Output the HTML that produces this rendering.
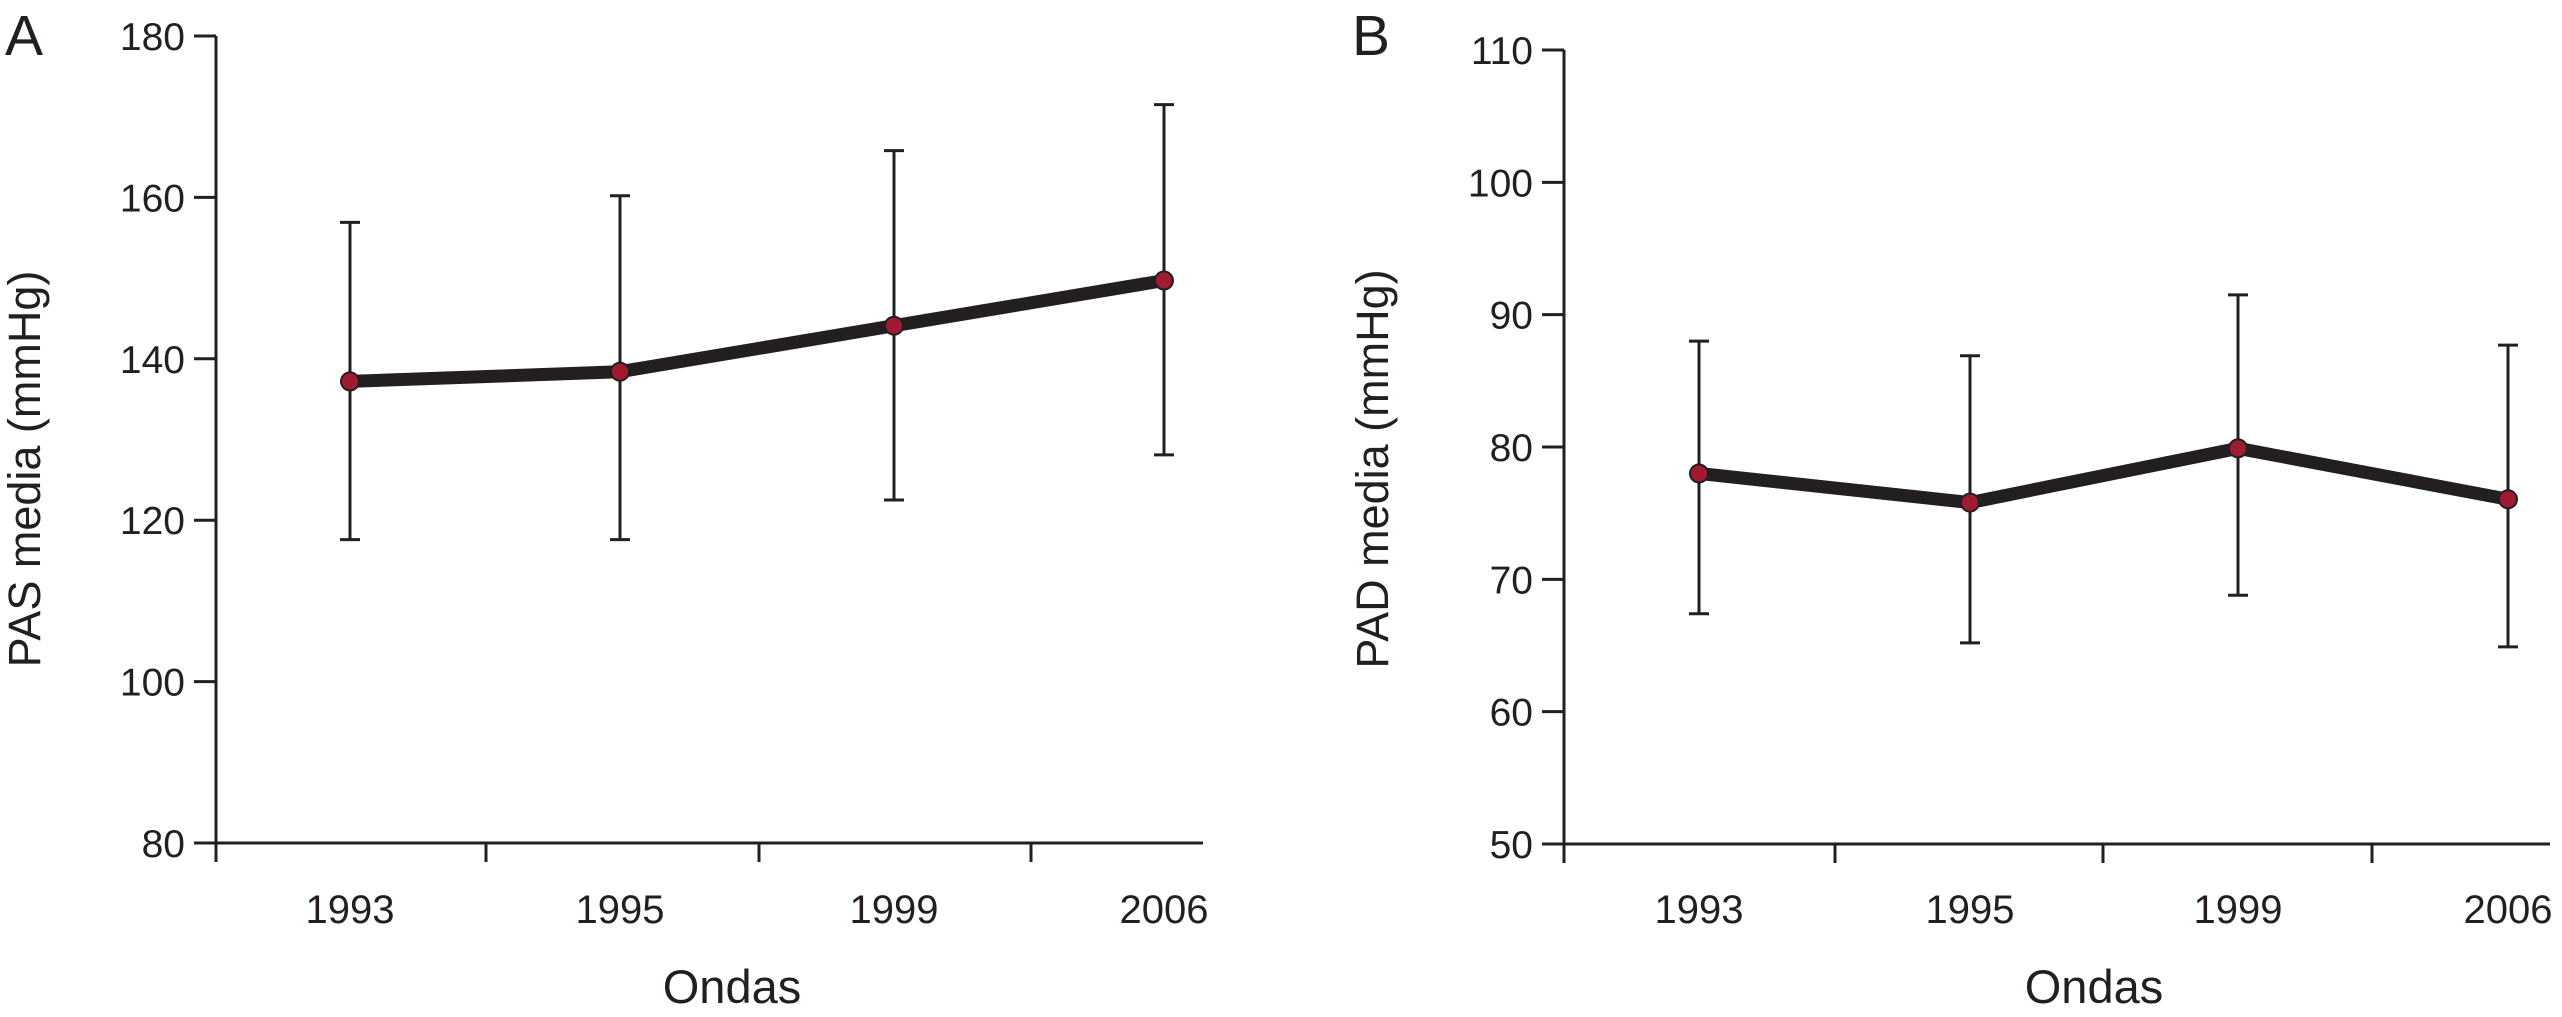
<!DOCTYPE html>
<html><head><meta charset="utf-8"><style>
html,body{margin:0;padding:0;background:#fff;}
svg{display:block;}
text{font-family:"Liberation Sans",sans-serif;fill:#231f20;}
</style></head>
<body>
<svg id="chart" width="2562" height="1017" viewBox="0 0 2562 1017" xmlns="http://www.w3.org/2000/svg"></svg>
<script>
const categories = ["1993","1995","1999","2006"];
const pasMean = [137.2, 138.4, 144.1, 149.7];
const pasLow = [117.6, 117.6, 122.5, 128.1];
const pasHigh = [156.9, 160.2, 165.8, 171.5];
const pasTicks = [80,100,120,140,160,180];
const padMean = [78.0, 75.8, 79.9, 76.05];
const padLow = [67.4, 65.2, 68.8, 64.9];
const padHigh = [88.0, 86.9, 91.5, 87.7];
const padTicks = [50,60,70,80,90,100,110];

const NS="http://www.w3.org/2000/svg";
const svg=document.getElementById('chart');
function mk(tag,attrs,parent){const e=document.createElementNS(NS,tag);for(const k in attrs)e.setAttribute(k,attrs[k]);(parent||svg).appendChild(e);return e;}

function panel(cfg){
  const g=mk('g',{});
  
  
  const y=v=>cfg.y0+(v-cfg.vmin)/(cfg.vmax-cfg.vmin)*(cfg.y1-cfg.y0);
  const x=i=>cfg.pts[i];
  // axes
  const ya=mk('line',{x1:cfg.ax,y1:y(cfg.vmax),x2:cfg.ax,y2:y(cfg.vmin)+19,stroke:'#231f20','stroke-width':3},g);
  
  
  const xa=mk('line',{x1:cfg.ax,y1:y(cfg.vmin),x2:cfg.xend,y2:y(cfg.vmin),stroke:'#231f20','stroke-width':3},g);
  
  
  cfg.xticks.forEach(tx=>{
    const t=mk('line',{x1:tx,y1:y(cfg.vmin),x2:tx,y2:y(cfg.vmin)+19,stroke:'#231f20','stroke-width':3},g);
    
    
  });
  cfg.ticks.forEach(v=>{
    const t=mk('line',{x1:cfg.ax-22,y1:y(v),x2:cfg.ax,y2:y(v),stroke:'#231f20','stroke-width':3},g);
    
    
    const l=mk('text',{x:cfg.ax-31,y:y(v)+14,'text-anchor':'end','font-size':39},g);
    l.textContent=v;
    
    
  });
  categories.forEach((c,i)=>{
    const l=mk('text',{x:x(i),y:923,'text-anchor':'middle','font-size':40},g);
    l.textContent=c;
    
    
  });
  // error bars
  categories.forEach((c,i)=>{
    const eg=mk('g',{stroke:'#231f20','stroke-width':3},g);
    
    
    mk('line',{x1:x(i),y1:y(cfg.high[i]),x2:x(i),y2:y(cfg.low[i])},eg);
    mk('line',{x1:x(i)-10,y1:y(cfg.high[i]),x2:x(i)+10,y2:y(cfg.high[i])},eg);
    mk('line',{x1:x(i)-10,y1:y(cfg.low[i]),x2:x(i)+10,y2:y(cfg.low[i])},eg);
  });
  const line=mk('polyline',{points:cfg.mean.map((v,i)=>x(i)+','+y(v)).join(' '),fill:'none',stroke:'#231f20','stroke-width':13,'stroke-linejoin':'round'},g);
  
  
  cfg.mean.forEach((v,i)=>{
    const p=mk('circle',{cx:x(i),cy:y(v),r:9,fill:'#9e1b32',stroke:'#231f20','stroke-width':2},g);
    
    
  });
  const xt=mk('text',{x:cfg.xtitle,y:1003,'text-anchor':'middle','font-size':47},g);
  xt.textContent='Ondas';
  
  
  const yt=mk('text',{x:0,y:0,'text-anchor':'middle','font-size':45,transform:'translate('+cfg.ytx+',469) rotate(-90)'},g);
  yt.textContent=cfg.ytitle;
  
  
  const pl=mk('text',{x:cfg.lx,y:55,'font-size':57},g);
  pl.textContent=cfg.letter;
  
  
}

panel({name:'panel-a',ax:216,xend:1203,y0:843,y1:36,vmin:80,vmax:180,ticks:pasTicks,
  xticks:[486,759,1031],pts:[350,620,894,1164],mean:pasMean,low:pasLow,high:pasHigh,
  xtitle:732,ytx:40,ytitle:'PAS media (mmHg)',lx:5,letter:'A'});
panel({name:'panel-b',ax:1564,xend:2550,y0:844,y1:50,vmin:50,vmax:110,ticks:padTicks,
  xticks:[1835,2103,2372],pts:[1699,1970,2238,2508],mean:padMean,low:padLow,high:padHigh,
  xtitle:2094,ytx:1388,ytitle:'PAD media (mmHg)',lx:1352,letter:'B'});
</script>
</body></html>
